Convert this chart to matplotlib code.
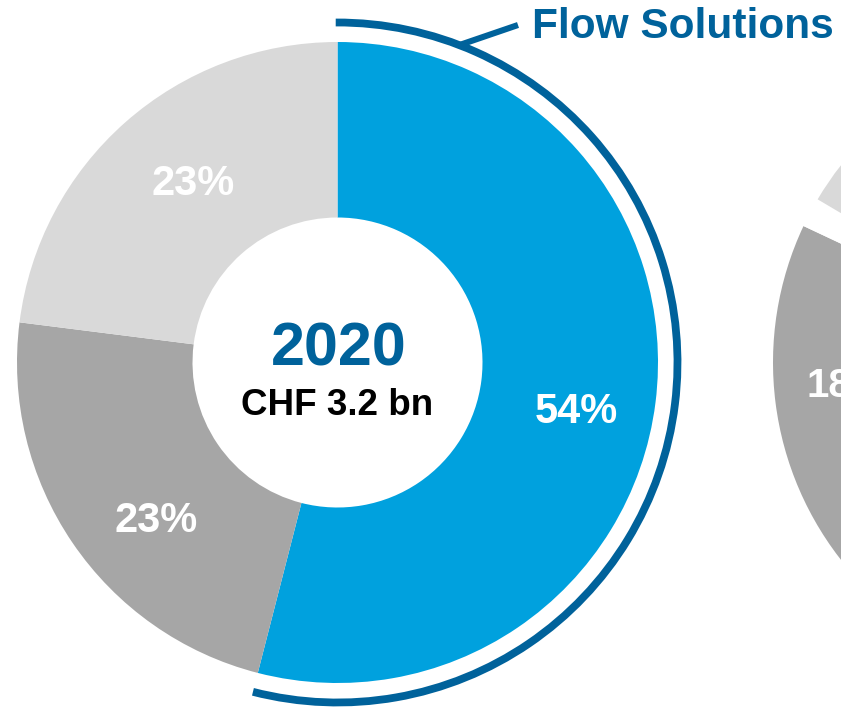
import numpy as np
import matplotlib
matplotlib.use("Agg")
import matplotlib.pyplot as plt
from matplotlib.patches import Arc

# --- data ---
segments = ["Flow Solutions", "Segment B", "Segment C"]
shares_2020 = [54, 23, 23]
labels_2020 = ["54%", "23%", "23%"]
year_2020 = "2020"
sales_2020 = "CHF 3.2 bn"

# next donut, only its left edge is visible in the picture
shares_next = [64, 18, 1.5, 16.5]   # blue, dark gray, gap, light gray
label_next = "18%"

highlight = "Flow Solutions"

# --- style ---
BLUE = "#00A1DE"
DARK_BLUE = "#00629B"
DARK_GRAY = "#A6A6A6"
LIGHT_GRAY = "#D9D9D9"
FONT = ["Liberation Sans", "DejaVu Sans"]

W, H = 841, 709
R_OUT, R_IN = 320.5, 145


def up(y):
    # picture rows (from top) -> axes y (from bottom)
    return H - y


fig = plt.figure(figsize=(W / 100, H / 100), dpi=100)
ax = fig.add_axes([0, 0, 1, 1])

c1 = (337.5, up(362.5))
c2 = (1093.5, up(362.5))

wedges, _ = ax.pie(
    shares_2020, colors=[BLUE, DARK_GRAY, LIGHT_GRAY],
    startangle=90, counterclock=False, center=c1, radius=R_OUT,
    wedgeprops=dict(width=R_OUT - R_IN, linewidth=0),
)
ax.pie(
    shares_next, colors=[BLUE, DARK_GRAY, "white", LIGHT_GRAY],
    startangle=90, counterclock=False, center=c2, radius=R_OUT,
    wedgeprops=dict(width=R_OUT - R_IN, linewidth=0),
)

# percent labels inside the first donut
label_pos = [(576.5, 423), (156.5, 532), (193.5, 195)]
for txt, (x, y) in zip(labels_2020, label_pos):
    ax.text(x, up(y), txt, ha="center", va="baseline", color="white",
            fontsize=30, fontweight="bold", family=FONT)

# cut by the right edge, as in the source slide
ax.text(807, up(397), label_next, ha="left", va="baseline", color="white",
        fontsize=29, fontweight="bold", family=FONT)

# centre text
ax.text(c1[0] + 1, up(365), year_2020, ha="center", va="baseline",
        color=DARK_BLUE, fontsize=44, fontweight="bold", family=FONT)
ax.text(c1[0], up(415), sales_2020, ha="center", va="baseline",
        color="black", fontsize=26.5, fontweight="bold", family=FONT)

# bracket arc around the Flow Solutions slice
r_arc = 340
theta_end = 90 - shares_2020[0] * 3.6
arc = Arc(c1, 2 * r_arc, 2 * r_arc, theta1=theta_end, theta2=90.3,
          color=DARK_BLUE, linewidth=5.6)
ax.add_patch(arc)

# connector to the label
a = np.deg2rad(69)
x0, y0 = c1[0] + r_arc * np.cos(a), c1[1] + r_arc * np.sin(a)
ax.plot([x0, 518], [y0, up(25)], color=DARK_BLUE, linewidth=4.4,
        solid_capstyle="butt")
ax.text(532, up(38), highlight, ha="left", va="baseline", color=DARK_BLUE,
        fontsize=30.5, fontweight="bold", family=FONT)

ax.set_xlim(0, W)
ax.set_ylim(0, H)
ax.set_aspect("equal")
ax.axis("off")

fig.savefig("out.png", dpi=100, facecolor="white")
